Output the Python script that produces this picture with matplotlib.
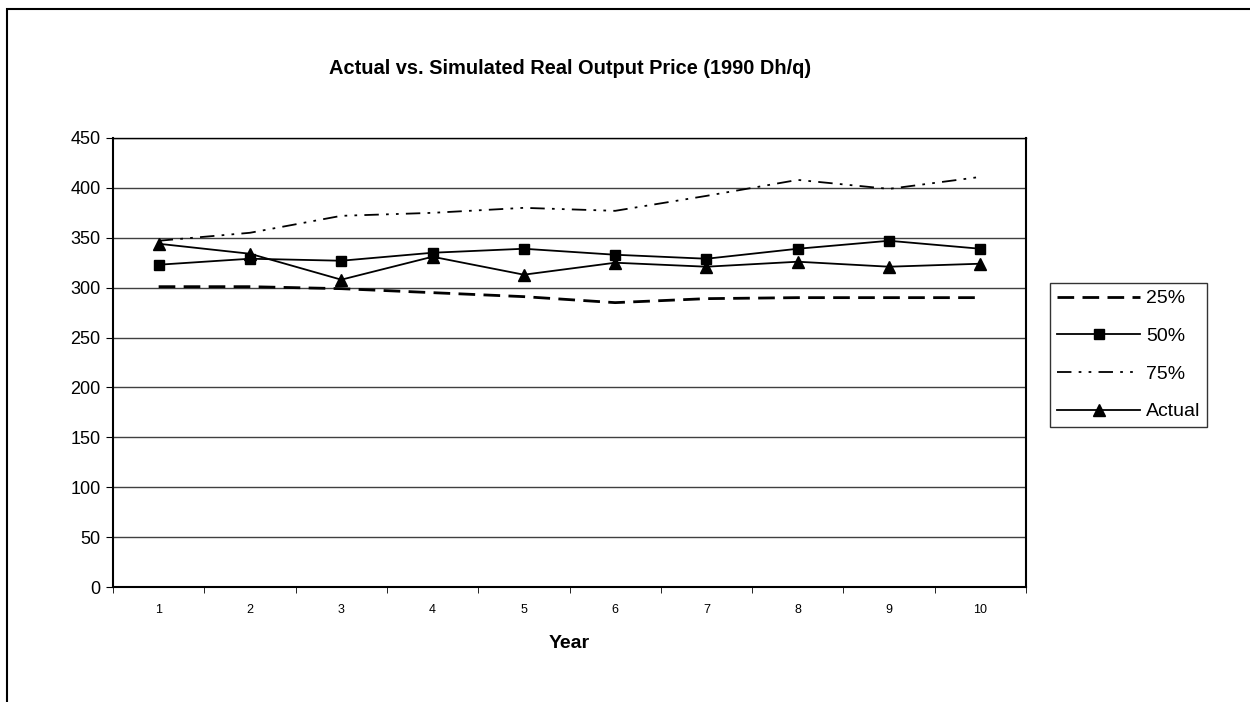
import matplotlib
matplotlib.use("Agg")
import matplotlib.pyplot as plt
from matplotlib.patches import Rectangle

plt.rcParams['font.family'] = ['Liberation Sans', 'DejaVu Sans']

years = [1, 2, 3, 4, 5, 6, 7, 8, 9, 10]
p25 = [301, 301, 299, 295, 291, 285, 289, 290, 290, 290]
p50 = [323, 329, 327, 335, 339, 333, 329, 339, 347, 339]
p75 = [347, 355, 372, 375, 380, 377, 392, 408, 399, 411]
actual = [344, 334, 308, 331, 313, 325, 321, 326, 321, 324]
yticks = [0, 50, 100, 150, 200, 250, 300, 350, 400, 450]

W, H = 1250, 702
fig = plt.figure(figsize=(12.5, 7.02), dpi=100)
ax = fig.add_axes([113 / W, 1 - 587 / H, (1026 - 113) / W, (587 - 138) / H])

# outer chart border (cropped at right and bottom)
fig.patches.append(Rectangle((7 / W, -0.05), 1.2, 1 - 9 / H + 0.05, transform=fig.transFigure,
                             fill=False, edgecolor='black', linewidth=1.5))

ax.plot(years, p25, color='black', linestyle=(0, (6, 3)), linewidth=2.0, label='25%')
ax.plot(years, p50, color='black', linestyle='-', linewidth=1.3, marker='s', markersize=7, label='50%')
ax.plot(years, p75, color='black', linestyle=(0, (8, 4, 1.5, 4, 1.5, 4)), linewidth=1.3, label='75%')
ax.plot(years, actual, color='black', linestyle='-', linewidth=1.3, marker='^', markersize=8, label='Actual')

ax.set_xlim(0.5, 10.5)
ax.set_ylim(0, 450)
ax.set_yticks(yticks)
ax.set_yticklabels([str(v) for v in yticks], fontsize=13)
ax.yaxis.grid(True, color='#404040', linewidth=1.0)
ax.set_axisbelow(True)

ax.set_xticks(years)
ax.set_xticklabels([str(y) for y in years], fontsize=9)
ax.set_xticks([x + 0.5 for x in range(0, 11)], minor=True)
ax.tick_params(axis='x', which='major', length=0, pad=12)
ax.tick_params(axis='x', which='minor', length=4, direction='out')
ax.tick_params(axis='y', length=5, direction='out', pad=4)

for s in ax.spines.values():
    s.set_color('black')
    s.set_linewidth(1.5)
ax.spines['top'].set_linewidth(1.0)

ax.set_xlabel('Year', fontsize=14, fontweight='bold', labelpad=14)
fig.text(570 / W, 1 - 68 / H, 'Actual vs. Simulated Real Output Price (1990 Dh/q)',
         ha='center', va='center', fontsize=14.4, fontweight='bold')

leg = ax.legend(loc='upper left', bbox_to_anchor=(1050 / W, 1 - 283 / H), bbox_transform=fig.transFigure,
                frameon=True, fancybox=False, edgecolor='black', fontsize=14,
                handlelength=4.3, handletextpad=0.3, borderpad=0.35, labelspacing=1.03,
                borderaxespad=0)
leg.get_frame().set_linewidth(1.0)

fig.savefig('out.png', dpi=100)
